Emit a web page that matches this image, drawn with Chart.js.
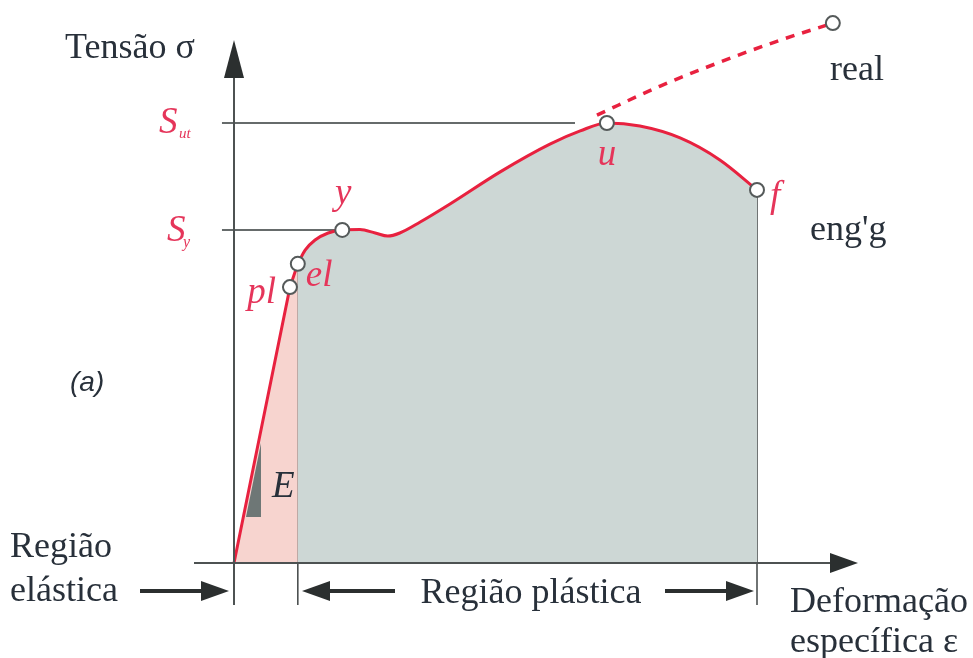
<!DOCTYPE html>
<html>
<head>
<meta charset="utf-8">
<script src="https://cdn.jsdelivr.net/npm/chart.js@4.4.1/dist/chart.umd.min.js"></script>
<style>
  html, body { margin: 0; padding: 0; background: #fff; }
  canvas { display: block; }
</style>
</head>
<body>
<canvas id="grafico" width="973" height="658"></canvas>
<script>
// diagrama tensão x deformação - curva de engenharia e curva real
const deformElastica = [0, 10.7, 12.2];
const tensaoElastica = [0, 62.7, 68.0];

const deformPlastica = [12.2, 13.6, 15.5, 18.0, 20.7, 24.1, 27.0, 29.4, 31.7, 35.6, 41.3, 50.9, 60.4, 66.2, 71.3, 77.6, 85.3, 92.9, 100];
const tensaoPlastica = [68.0, 71.1, 73.4, 75.0, 75.7, 75.8, 75.0, 74.3, 75.0, 77.5, 81.6, 88.9, 95.2, 98.2, 100, 99.3, 96.6, 91.6, 84.8];

const deformReal = [69.4, 81.5, 92.4, 103.4, 114.5];
const tensaoReal = [101.8, 108.4, 113.6, 118.4, 122.7];

const pontosNome = ['pl', 'el', 'y', 'u', 'f', 'real'];
const pontosDeform = [10.7, 12.2, 20.7, 71.3, 100, 114.5];
const pontosTensao = [62.7, 68.0, 75.7, 100, 84.8, 122.7];

const Sut = 100;
const Sy = 75.7;
const refInicio = -2.3;
const refFimSut = 65.2;
const refFimSy = 20.3;

const VERMELHO = '#e8213f';
const TEXTO_VERMELHO = '#e5355a';
const TEXTO = '#28303a';
const EIXO = '#4d5252';
const CABECA = '#2b2f2f';

const pares = (xs, ys) => xs.map((x, i) => ({ x, y: ys[i] }));

function seta(ctx, x1, y1, x2, y2, cabeca, largura, cor, espessura, corCabeca) {
  const ang = Math.atan2(y2 - y1, x2 - x1);
  const bx = x2 - Math.cos(ang) * cabeca;
  const by = y2 - Math.sin(ang) * cabeca;
  ctx.save();
  ctx.strokeStyle = cor;
  ctx.fillStyle = corCabeca || cor;
  ctx.lineWidth = espessura;
  ctx.beginPath();
  ctx.moveTo(x1, y1);
  ctx.lineTo(bx, by);
  ctx.stroke();
  ctx.beginPath();
  ctx.moveTo(x2, y2);
  ctx.lineTo(bx - Math.sin(ang) * largura, by + Math.cos(ang) * largura);
  ctx.lineTo(bx + Math.sin(ang) * largura, by - Math.cos(ang) * largura);
  ctx.closePath();
  ctx.fill();
  ctx.restore();
}

function texto(ctx, str, x, y, fonte, cor, align) {
  ctx.font = fonte;
  ctx.fillStyle = cor;
  ctx.textAlign = align || 'left';
  ctx.textBaseline = 'alphabetic';
  ctx.fillText(str, x, y);
}

const decoracao = {
  id: 'decoracao',
  beforeDatasetsDraw(chart) {
    const { ctx, scales: { x, y } } = chart;
    const x0 = x.getPixelForValue(0);
    const y0 = y.getPixelForValue(0);
    const xEl = x.getPixelForValue(deformElastica[2]);
    const xF = x.getPixelForValue(deformPlastica[deformPlastica.length - 1]);
    ctx.save();
    ctx.strokeStyle = EIXO;
    ctx.lineWidth = 1.6;
    ctx.beginPath();
    ctx.moveTo(xEl, y.getPixelForValue(tensaoElastica[2]));
    ctx.lineTo(xEl, y0 + 42);
    ctx.moveTo(xF, y.getPixelForValue(tensaoPlastica[tensaoPlastica.length - 1]));
    ctx.lineTo(xF, y0 + 42);
    ctx.moveTo(x0, y0);
    ctx.lineTo(x0, y0 + 42);
    ctx.stroke();
    ctx.restore();
  },
  afterDatasetsDraw(chart) {
    const { ctx, scales: { x, y } } = chart;
    const x0 = x.getPixelForValue(0);
    const y0 = y.getPixelForValue(0);

    // triângulo do módulo E
    ctx.save();
    ctx.fillStyle = '#6e7776';
    ctx.beginPath();
    ctx.moveTo(x0 + 12, y0 - 46);
    ctx.lineTo(x0 + 27, y0 - 46);
    ctx.lineTo(x0 + 27, y0 - 120);
    ctx.closePath();
    ctx.fill();
    ctx.restore();

    // eixos
    seta(ctx, x0 - 40, y0, x0 + 624, y0, 28, 10, EIXO, 2, CABECA);
    seta(ctx, x0, y0 + 42, x0, y0 - 523, 38, 10, EIXO, 2, CABECA);
  },
  afterDraw(chart) {
    const { ctx, scales: { x, y } } = chart;
    const x0 = x.getPixelForValue(0);
    const y0 = y.getPixelForValue(0);
    const serif = '"Liberation Serif", "DejaVu Serif", serif';
    const normal = '36px ' + serif;
    const italico = 'italic 37px ' + serif;

    texto(ctx, 'Tensão σ', 65, 58, normal, TEXTO);

    const ySut = y.getPixelForValue(Sut);
    const ySy = y.getPixelForValue(Sy);
    texto(ctx, 'S', 159, ySut + 10, italico, TEXTO_VERMELHO);
    texto(ctx, 'ut', 179, ySut + 15, 'italic 15px ' + serif, TEXTO_VERMELHO);
    texto(ctx, 'S', 167, ySy + 11, italico, TEXTO_VERMELHO);
    texto(ctx, 'y', 183, ySy + 17, 'italic 16px ' + serif, TEXTO_VERMELHO);

    const desloc = {
      pl: [-14, 16, 'right'],
      el: [8, 22, 'left'],
      y: [1, -26, 'center'],
      u: [0, 42, 'center'],
      f: [13, 17, 'left'],
    };
    pontosNome.forEach((nome, i) => {
      const d = desloc[nome];
      if (!d) return;
      const px = x.getPixelForValue(pontosDeform[i]);
      const py = y.getPixelForValue(pontosTensao[i]);
      texto(ctx, nome, px + d[0], py + d[1], italico, TEXTO_VERMELHO, d[2]);
    });

    texto(ctx, 'real', 830, 80, normal, TEXTO);
    texto(ctx, "eng'g", 810, 240, normal, TEXTO);
    texto(ctx, 'E', x0 + 38, y0 - 66, italico, TEXTO);
    texto(ctx, '(a)', 70, 391, 'italic 28px "Liberation Sans", sans-serif', TEXTO);

    texto(ctx, 'Região', 10, 557, normal, TEXTO);
    texto(ctx, 'elástica', 10, 601, normal, TEXTO);
    texto(ctx, 'Região plástica', 531, 603, normal, TEXTO, 'center');
    texto(ctx, 'Deformação', 790, 612, normal, TEXTO);
    texto(ctx, 'específica ε', 790, 652, normal, TEXTO);

    seta(ctx, 140, 591, 229, 591, 28, 10, CABECA, 4);
    seta(ctx, 395, 591, 302, 591, 28, 10, CABECA, 4);
    seta(ctx, 665, 591, 754, 591, 28, 10, CABECA, 4);
  },
};

const ctx = document.getElementById('grafico').getContext('2d');
new Chart(ctx, {
  type: 'scatter',
  data: {
    datasets: [
      {
        data: pares(deformElastica, tensaoElastica),
        showLine: true,
        borderColor: VERMELHO,
        borderWidth: 3,
        backgroundColor: '#f7d4cf',
        fill: 'origin',
        pointRadius: 0,
        clip: false,
        order: 2,
      },
      {
        data: pares(deformPlastica, tensaoPlastica),
        showLine: true,
        borderColor: VERMELHO,
        borderWidth: 3,
        backgroundColor: '#cdd7d5',
        fill: 'origin',
        cubicInterpolationMode: 'monotone',
        pointRadius: 0,
        clip: false,
        order: 2,
      },
      {
        data: pares(deformReal, tensaoReal),
        showLine: true,
        borderColor: VERMELHO,
        borderWidth: 3.5,
        borderDash: [9, 8],
        cubicInterpolationMode: 'monotone',
        pointRadius: 0,
        clip: false,
        order: 2,
      },
      {
        data: [{ x: refInicio, y: Sut }, { x: refFimSut, y: Sut }],
        showLine: true,
        borderColor: '#666b6b',
        borderWidth: 2,
        pointRadius: 0,
        clip: false,
        order: 3,
      },
      {
        data: [{ x: refInicio, y: Sy }, { x: refFimSy, y: Sy }],
        showLine: true,
        borderColor: '#666b6b',
        borderWidth: 2,
        pointRadius: 0,
        clip: false,
        order: 3,
      },
      {
        data: pares(pontosDeform, pontosTensao),
        showLine: false,
        pointRadius: 7,
        pointBackgroundColor: '#ffffff',
        pointBorderColor: '#555a5a',
        pointBorderWidth: 2,
        clip: false,
        order: 0,
      },
    ],
  },
  options: {
    responsive: false,
    animation: false,
    devicePixelRatio: 1,
    // área útil: origem em (234, 563), 1 unidade = 5.23 px em x e 4.4 px em y
    layout: { padding: { left: 234, right: 111.4, top: 13, bottom: 95 } },
    scales: {
      x: { type: 'linear', min: 0, max: 120, display: false },
      y: { type: 'linear', min: 0, max: 125, display: false },
    },
    plugins: { legend: { display: false }, tooltip: { enabled: false } },
  },
  plugins: [decoracao],
});
</script>
</body>
</html>
